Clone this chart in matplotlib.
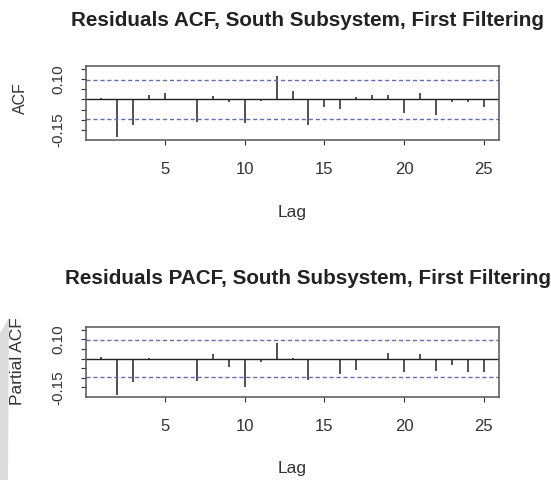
import matplotlib.pyplot as plt
from matplotlib.patches import Polygon

plt.rcParams['font.family'] = ['Liberation Sans', 'DejaVu Sans']

# lags 1..25 and the values
lags = list(range(1, 26))
acf_vals = [0.008, -0.183, -0.128, 0.022, 0.030, 0.002, -0.112, 0.017, -0.012, -0.117,
            -0.008, 0.117, 0.043, -0.124, -0.038, -0.047, 0.010, 0.022, 0.022, -0.067,
            0.031, -0.076, -0.012, -0.012, -0.038]
pacf_vals = [0.009, -0.190, -0.124, 0.004, -0.005, -0.006, -0.115, 0.023, -0.044, -0.150,
             -0.020, 0.084, 0.003, -0.112, 0.000, -0.078, -0.057, 0.000, 0.030, -0.071,
             0.024, -0.062, -0.031, -0.071, -0.071]
conf = 0.098
yticks = [-0.15, -0.10, -0.05, 0.0, 0.05, 0.10, 0.15]
ytick_labels = ['-0.15', '', '', '', '', '0.10', '']
xticks = [5, 10, 15, 20, 25]

W, H = 551, 480
fig = plt.figure(figsize=(W / 100, H / 100), dpi=100)

# light gray page strip at the left edge
fig.patches.append(Polygon([(0, 1 - 333 / H), (9 / W, 1 - 318 / H), (8 / W, 0), (0, 0)],
                           closed=True, transform=fig.transFigure,
                           facecolor='#dcdcdc', edgecolor='none'))


def draw_panel(rect, vals):
    ax = fig.add_axes(rect)
    ax.vlines(lags, 0, vals, color='#333333', linewidth=1.2)
    ax.axhline(0, color='#222222', linewidth=1)
    ax.axhline(conf, color='#6a6ab4', linestyle=(0, (3, 2)), linewidth=1)
    ax.axhline(-conf, color='#6a6ab4', linestyle=(0, (3, 2)), linewidth=1)
    ax.set_xlim(0.04, 25.96)
    ax.set_ylim(-0.2, 0.165)
    ax.set_xticks(xticks)
    ax.set_xticklabels([str(t) for t in xticks], fontsize=12, color='#333333')
    ax.set_yticks(yticks)
    ax.set_yticklabels(ytick_labels, rotation=90, va='center', fontsize=11,
                       color='#333333')
    ax.tick_params(axis='x', length=3.6, pad=12, color='#333333')
    ax.tick_params(axis='y', length=3.6, pad=11, color='#333333')
    for s in ax.spines.values():
        s.set_color('#555555')
        s.set_linewidth(1.1)
    return ax


ax1 = draw_panel([86 / W, 1 - 140 / H, 413 / W, 74 / H], acf_vals)
ax2 = draw_panel([86 / W, 1 - 397 / H, 413 / W, 70 / H], pacf_vals)

# titles
fig.text(71 / W, 1 - 20 / H, 'Residuals ACF, South Subsystem, First Filtering',
         ha='left', va='center', fontsize=14.9, fontweight='bold', color='#222222')
fig.text(65 / W, 1 - 278 / H, 'Residuals PACF, South Subsystem, First Filtering',
         ha='left', va='center', fontsize=14.9, fontweight='bold', color='#222222')

# axis labels
fig.text(292 / W, 1 - 212 / H, 'Lag', ha='center', va='center', fontsize=12.5, color='#333333')
fig.text(292 / W, 1 - 468 / H, 'Lag', ha='center', va='center', fontsize=12.5, color='#333333')
fig.text(20 / W, 1 - 98 / H, 'ACF', ha='center', va='center', rotation=90,
         fontsize=11.5, color='#333333')
fig.text(18 / W, 1 - 361 / H, 'Partial ACF', ha='center', va='center', rotation=90,
         fontsize=12.5, color='#333333')

fig.savefig('out.png', dpi=100)
